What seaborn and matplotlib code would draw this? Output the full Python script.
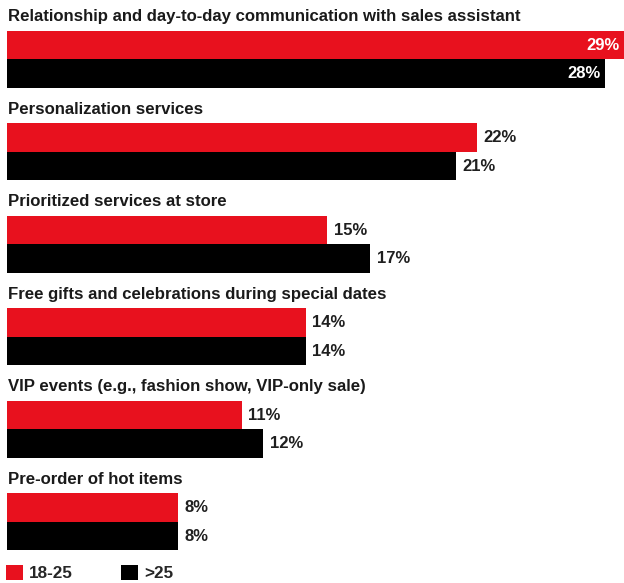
import matplotlib
matplotlib.use("Agg")
import matplotlib.pyplot as plt
from matplotlib.patches import Patch
import seaborn as sns
import pandas as pd

categories = [
    "Relationship and day-to-day communication with sales assistant",
    "Personalization services",
    "Prioritized services at store",
    "Free gifts and celebrations during special dates",
    "VIP events (e.g., fashion show, VIP-only sale)",
    "Pre-order of hot items",
]
age_groups = ["18-25", ">25"]
values_18_25 = [29, 22, 15, 14, 11, 8]
values_over_25 = [28, 21, 17, 14, 12, 8]
colors = ["#E8111E", "#000000"]

df = pd.DataFrame({
    "category": categories * 2,
    "group": [age_groups[0]] * len(categories) + [age_groups[1]] * len(categories),
    "value": values_18_25 + values_over_25,
})

sns.set_theme(style="white")
plt.rcParams["font.family"] = ["Liberation Sans", "DejaVu Sans"]

W, H = 624, 583
fig = plt.figure(figsize=(W / 100, H / 100), dpi=100)
ax = fig.add_axes([0, 0, 1, 1])

BW = 0.616
sns.barplot(data=df, y="category", x="value", hue="group", palette=colors,
            orient="h", width=BW, dodge=True, ax=ax, legend=False,
            saturation=1, linewidth=0, errorbar=None)

# pixel mapping
x0_px, px_per_unit = 6.5, 21.39
y0_px, pitch = 59.3, 92.5
ax.set_xlim(-x0_px / px_per_unit, (W - x0_px) / px_per_unit)
ax.set_ylim((H - y0_px) / pitch, -y0_px / pitch)
ax.axis("off")

def px(p):
    return p / px_per_unit

for i, cat in enumerate(categories):
    ax.text(px(1.5), i - 0.41, cat, ha="left", va="baseline",
            fontsize=12.1, fontweight="bold", color="#1a1a1a")
    for j, vals in enumerate([values_18_25, values_over_25]):
        v = vals[i]
        y = i + (j - 0.5) * BW / 2
        if v >= 28:
            ax.text(v - px(5) if v < 29 else (W - x0_px - 4) / px_per_unit, y,
                    f"{v}%", ha="right", va="center", fontsize=12,
                    fontweight="bold", color="white")
        else:
            ax.text(v + px(6.5), y, f"{v}%", ha="left", va="center",
                    fontsize=12, fontweight="bold", color="#1f1f1f")

handles = [Patch(facecolor=c, edgecolor="none") for c in colors]
ax.legend(handles, age_groups, loc="lower left",
          bbox_to_anchor=(6 / W, 2 / H), bbox_transform=fig.transFigure,
          ncol=2, frameon=False, borderpad=0, borderaxespad=0,
          handlelength=1.0, handleheight=1.0, handletextpad=0.35,
          columnspacing=2.8, prop={"size": 12.3, "weight": "bold"})

fig.savefig("out.png", dpi=100)
